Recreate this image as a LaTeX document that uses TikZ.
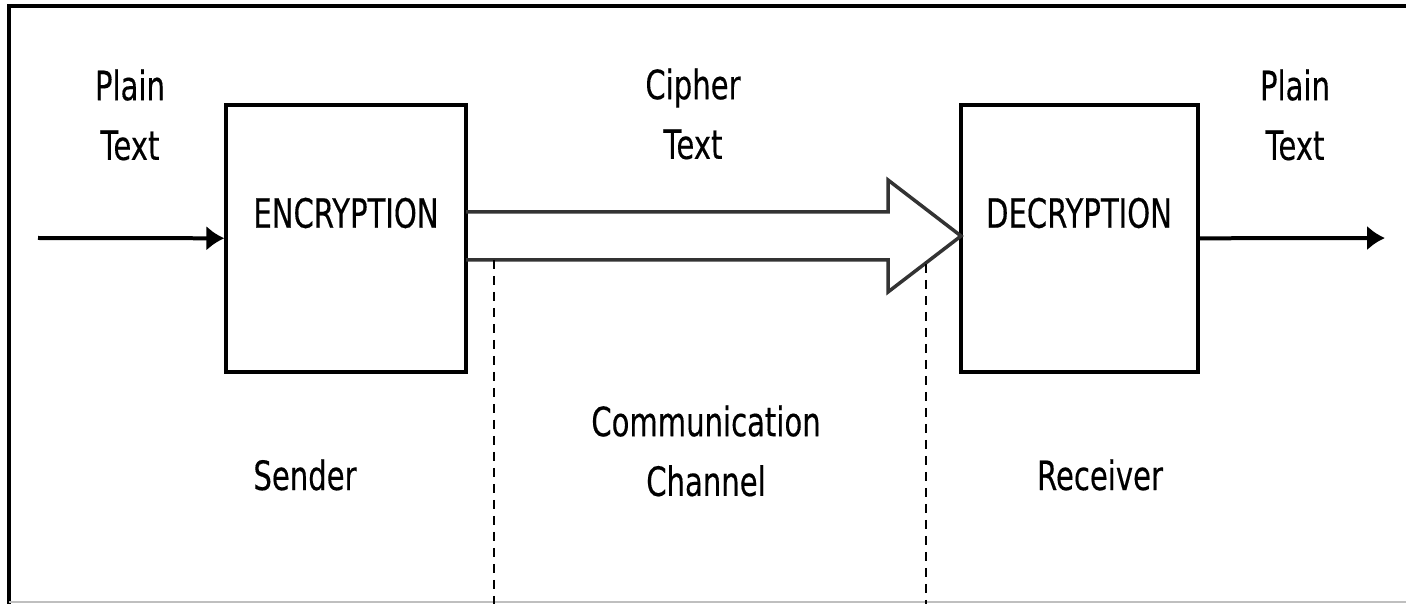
\documentclass[tikz,border=0pt]{standalone}
\usepackage{fontspec}
\setmainfont{DejaVu Sans}[FakeStretch=0.72,FakeBold=0.3]
\usetikzlibrary{arrows.meta}
\begin{document}
\begin{tikzpicture}[x=0.02cm,y=-0.02cm,
    block/.style={draw=black,line width=0.065cm,minimum width=4.8cm,minimum height=5.34cm},
    word/.style={align=center,inner sep=0pt,font=\fontsize{23}{34}\selectfont},
    flow/.style={line width=0.08cm,-{Latex[length=0.36cm,width=0.5cm]}},
    channel/.style={draw=black!80,line width=0.07cm},
    border/.style={dashed,dash pattern=on 0.18cm off 0.14cm,line width=0.035cm}]
    \useasboundingbox (0,0) rectangle (1406,604);
    % frame
    \draw[line width=0.08cm] (9,604) -- (9,6) -- (1406,6);
    \draw[black!25,line width=0.03cm] (9,602) -- (1406,602);
    % sender and receiver
    \node[block] (enc) at (346,238.5) {};
    \node[block,minimum width=4.74cm] (dec) at (1079.5,238.5) {};
    \node[word] (enclbl) at (346,213) {ENCRYPTION};
    \node[word] (declbl) at (1079,213) {DECRYPTION};
    % channel
    \draw[channel] (466,212) -- (888,212) -- (888,180) -- (961,236) -- (888,292) -- (888,260) -- (466,260);
    \draw[border] (494,260) -- (494,604);
    \draw[border] (926,264) -- (926,604);
    % in and out
    \coordinate (src) at (38,238);
    \coordinate (dst) at (1385,238);
    \draw[flow] (src) -- (enc);
    \draw[flow] (dec) -- (dst);
    % labels
    \node[word] (plainin) at (130,115) {Plain\\Text};
    \node[word] (cipher) at (693,114) {Cipher\\Text};
    \node[word] (plainout) at (1295,115) {Plain\\Text};
    \node[word,anchor=base] (sender) at (305,490) {Sender};
    \node[word] (comm) at (706,451) {Communication\\Channel};
    \node[word,anchor=base] (receiver) at (1100,490) {Receiver};
\end{tikzpicture}
\end{document}
